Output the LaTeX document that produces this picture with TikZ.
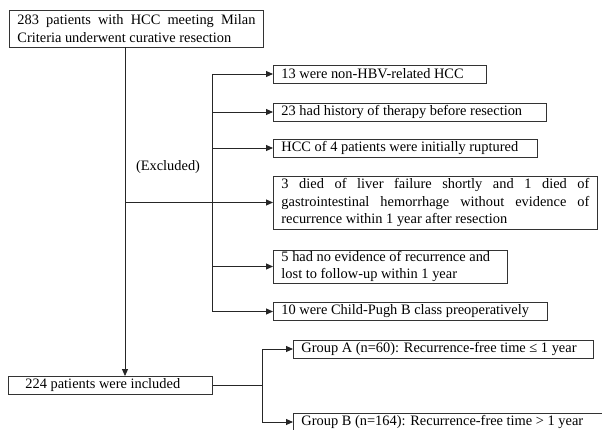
\documentclass[tikz,border=0pt]{standalone}
\usepackage{fontspec}
\setmainfont{Liberation Serif}
\usetikzlibrary{arrows.meta, positioning}
\tikzset{
  box/.style={
    draw=black!80,
    line width=0.9pt,
    rectangle,
    anchor=west,
    inner xsep=8pt,
    inner ysep=1pt,
    minimum height=18pt,
    align=left,
    font=\fontsize{14.4}{17.5}\selectfont,
  },
  label/.style={
    font=\fontsize{14.4}{17.5}\selectfont
  },
  link/.style={
    line width=0.9pt,
    draw=black!85
  },
  arrow/.style={
    link,
    -{Triangle[length=7pt,width=6pt]}
  }
}
% ligne justifiee / ligne a gauche, largeur fixe
\newcommand{\fillline}[2]{\makebox[#1][s]{#2}}
\newcommand{\plainline}[2]{\makebox[#1][l]{#2}}

\begin{document}
\begin{tikzpicture}[x=1pt, y=-1pt]

\useasboundingbox (0,0) rectangle (602,430);

% --- Boite de depart ---
\node[box, minimum height=37pt] (start) at (9,28.5)
  {\fillline{238pt}{283 patients with HCC meeting Milan}\\
   \plainline{238pt}{Criteria underwent curative resection}};

% --- Exclusions ---
\node[box] (ex1) at (273,74) {\plainline{197pt}{13 were non-HBV-related HCC}};
\node[box] (ex2) at (273,112) {\plainline{257pt}{23 had history of therapy before resection}};
\node[box] (ex3) at (273,148) {\plainline{248pt}{HCC of 4 patients were initially ruptured}};
\node[box, minimum height=53pt] (ex4) at (273,202.5)
  {\fillline{308pt}{3 died of liver failure shortly and 1 died of}\\
   \fillline{308pt}{gastrointestinal hemorrhage without evidence of}\\
   \plainline{308pt}{recurrence within 1 year after resection}};
\node[box, minimum height=33pt] (ex5) at (273,266.5)
  {\plainline{218pt}{5 had no evidence of recurrence and}\\
   \plainline{218pt}{lost to follow-up within 1 year}};
\node[box] (ex6) at (273,311.5) {\plainline{258pt}{10 were Child-Pugh B class preoperatively}};

\node[label] (exlabel) at (168,167) {(Excluded)};

% --- Patients inclus et groupes ---
\node[box] (incl) at (8,385.5) {\plainline{188pt}{\hspace*{9pt}224 patients were included}};
\node[box] (groupA) at (293,349) {\plainline{284pt}{Group A (n=60): Recurrence-free time ≤ 1 year}};
\node[box] (groupB) at (293,422) {\plainline{301pt}{Group B (n=164): Recurrence-free time > 1 year}};

% --- Points de branchement ---
\coordinate (split) at (125,202.5);
\coordinate (branch) at (212,0);
\coordinate (fork) at (262,0);

% --- Liaisons ---
\draw[arrow] (start.south -| split) -- (incl.north -| split);
\draw[arrow] (split) -- (ex4.west);
\draw[link] (ex1.west -| branch) -- (ex6.west -| branch);
\foreach \n in {ex1,ex2,ex3,ex5,ex6}
  \draw[arrow] (\n.west -| branch) -- (\n.west);

\draw[arrow] (incl.east) -- (incl.east -| fork) |- (groupA.west);
\draw[arrow] (incl.east -| fork) |- (groupB.west);

\end{tikzpicture}
\end{document}
